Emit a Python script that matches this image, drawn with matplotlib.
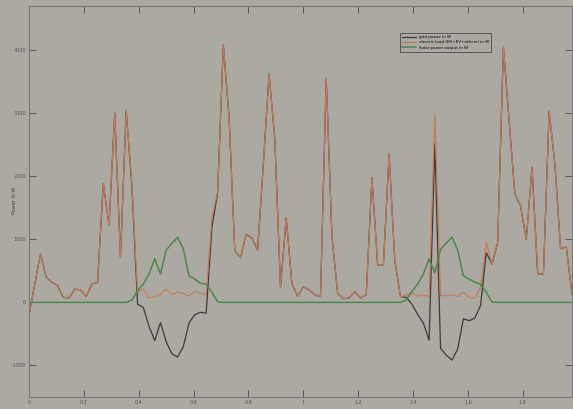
import numpy as np
import matplotlib
matplotlib.use("Agg")
import matplotlib.pyplot as plt

# half-hourly samples over ~2 days (x axis in days)
n_steps = 96
step = 1 / 48

load_w = [
    -200, 280, 770, 400, 320, 265, 80, 70, 210, 200, 90, 290,
    320, 1890, 1220, 3000, 710, 3050, 1880, 160, 210, 70, 90, 130,
    210, 120, 165, 145, 100, 175, 145, 120, 1350, 1750, 4080, 2940,
    820, 710, 1080, 1020, 830, 2200, 3620, 2600, 240, 1340, 290, 100,
    250, 200, 120, 90, 3560, 1050, 140, 60, 70, 170, 70, 120,
    1980, 590, 590, 2350, 660, 90, 120, 145, 100, 120, 90, 2990,
    110, 105, 120, 90, 160, 80, 70, 240, 950, 610, 950, 4050,
    2880, 1720, 1530, 1000, 2140, 450, 450, 3030, 2200, 850, 880, 130,
]

solar_w = [
    0, 0, 0, 0, 0, 0, 0, 0, 0, 0, 0, 0,
    0, 0, 0, 0, 0, 0, 37, 190, 290, 450, 693, 450,
    830, 936, 1031, 846, 423, 370, 302, 291, 160, 10, 0, 0,
    0, 0, 0, 0, 0, 0, 0, 0, 0, 0, 0, 0,
    0, 0, 0, 0, 0, 0, 0, 0, 0, 0, 0, 0,
    0, 0, 0, 0, 0, 0, 40, 175, 290, 450, 690, 470,
    840, 940, 1035, 830, 420, 370, 320, 290, 160, 5, 0, 0,
    0, 0, 0, 0, 0, 0, 0, 0, 0, 0, 0, 0,
]

grid_w = [
    -200, 280, 770, 400, 320, 265, 80, 70, 210, 200, 90, 290,
    320, 1890, 1220, 3000, 710, 3050, 1843, -30, -80, -380, -603, -320,
    -620, -816, -866, -701, -323, -195, -157, -171, 1190, 1740, 4080, 2940,
    820, 710, 1080, 1020, 830, 2200, 3620, 2600, 240, 1340, 290, 100,
    250, 200, 120, 90, 3560, 1050, 140, 60, 70, 170, 70, 120,
    1980, 590, 590, 2350, 660, 90, 80, -30, -190, -330, -600, 2520,
    -730, -835, -915, -740, -260, -290, -250, -50, 790, 605, 950, 4050,
    2880, 1720, 1530, 1000, 2140, 450, 450, 3030, 2200, 850, 880, 130,
]

series_labels = [
    "grid power in W",
    "electric load (EH+EV+others) in W",
    "Solar power output in W",
]
x_ticks = [0, 0.2, 0.4, 0.6, 0.8, 1, 1.2, 1.4, 1.6, 1.8]
y_ticks = [-1000, 0, 1000, 2000, 3000, 4000]

t = np.arange(n_steps) * step

bg = "#aca9a3"
fig = plt.figure(figsize=(5.73, 4.09), dpi=100, facecolor=bg)
ax = fig.add_axes([29 / 573, 12 / 409, 543 / 573, 391 / 409], facecolor=bg)

ax.plot(t, grid_w, color="#3a3a3a", lw=0.9, label=series_labels[0])
ax.plot(t, load_w, color="#c47a55", lw=0.85, label=series_labels[1])
ax.plot(t, solar_w, color="#4a874a", lw=1.1, label=series_labels[2])

ax.set_xlim(0, (n_steps - 1) * step)
ax.set_ylim(-1500, 4700)
ax.set_xticks(x_ticks)
ax.set_xticklabels([f"{v:g}" for v in x_ticks])
ax.set_yticks(y_ticks)
ax.set_yticklabels([str(v) for v in y_ticks])

ax.tick_params(direction="in", length=5, width=0.7, colors="#555555",
               labelsize=3.5, top=True, right=True, pad=2)
for sp in ax.spines.values():
    sp.set_color("#777777")
    sp.set_linewidth(0.8)

fig.text(15 / 573, 0.51, "Power in W", rotation=90, fontsize=3.5,
         color="#444444", ha="center", va="center")

leg = ax.legend(loc="upper left", bbox_to_anchor=(398 / 573, 1 - 31 / 409),
                bbox_transform=fig.transFigure, fontsize=2.9, frameon=True,
                fancybox=False, borderpad=0.5, handlelength=3.4,
                labelspacing=0.35)
leg.get_frame().set_facecolor(bg)
leg.get_frame().set_edgecolor("#555555")
leg.get_frame().set_linewidth(0.7)
leg.get_frame().set_alpha(1)

fig.savefig("out.png", dpi=100, facecolor=bg)
